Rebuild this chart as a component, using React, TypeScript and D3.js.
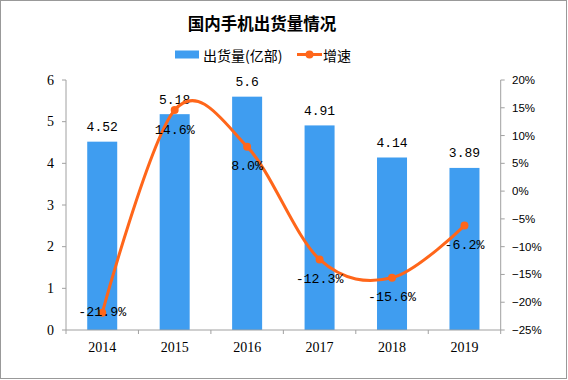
import React from "react";
import * as d3 from "d3";

const years = ["2014", "2015", "2016", "2017", "2018", "2019"];
const shipments = [4.52, 5.18, 5.6, 4.91, 4.14, 3.89];
const shipmentLabels = ["4.52", "5.18", "5.6", "4.91", "4.14", "3.89"];
const growth = [-21.9, 14.6, 8.0, -12.3, -15.6, -6.2];
const growthLabels = ["-21.9%", "14.6%", "8.0%", "-12.3%", "-15.6%", "-6.2%"];
const leftTicks = [0, 1, 2, 3, 4, 5, 6];
const rightTicks = [20, 15, 10, 5, 0, -5, -10, -15, -20, -25];

const title = "国内手机出货量情况";
const legendBar = "出货量(亿部)";
const legendLine = "增速";

const W = 568;
const H = 380;
const BAR = "#3F9DF0";
const LINE = "#FF661A";
const AXIS = "#A0A0A0";
const MONO = "'Liberation Mono', 'DejaVu Sans Mono', monospace";
const SERIF = "'Liberation Serif', serif";
const CJK = "'Noto Sans CJK SC', sans-serif";

export default function App() {
  const left = 66;
  const right = 500.7;
  const top = 80;
  const bottom = 330;

  const x = d3.scaleBand<string>().domain(years).range([left, right]).paddingInner(0).paddingOuter(0);
  const yL = d3.scaleLinear().domain([0, 6]).range([bottom, top]);
  const yR = d3.scaleLinear().domain([-25, 20]).range([bottom, top]);
  const barW = 30;
  const cx = (i: number) => (x(years[i]) as number) + x.bandwidth() / 2;

  const pts: [number, number][] = growth.map((g, i) => [cx(i), yR(g)]);
  const linePath = d3.line().curve(d3.curveCardinal.tension(0))(pts) as string;

  const boundaries = years.map((y) => x(y) as number).concat([right]);

  return (
    <svg
      width={W}
      height={H}
      style={{ position: "absolute", left: 0, top: 0, background: "#fff" }}
    >
      <rect x={0.5} y={0.5} width={566} height={378} fill="#fff" stroke="#999" strokeWidth={1} />

      <text x={262} y={23} textAnchor="middle" dominantBaseline="central" fontFamily={CJK} fontWeight="bold" fontSize={16.5} fill="#000">
        {title}
      </text>

      {/* legend */}
      <rect x={175} y={50.5} width={24} height={8} fill={BAR} />
      <text x={203} y={54.5} dominantBaseline="central" fontFamily={CJK} fontSize={14} fill="#000">
        {legendBar}
      </text>
      <line x1={297} x2={322} y1={54.5} y2={54.5} stroke={LINE} strokeWidth={3} />
      <circle cx={309.5} cy={54.5} r={4} fill={LINE} />
      <text x={323} y={54.5} dominantBaseline="central" fontFamily={CJK} fontSize={14} fill="#000">
        {legendLine}
      </text>

      {/* bars */}
      {shipments.map((v, i) => (
        <rect key={"b" + i} x={cx(i) - barW / 2} y={yL(v)} width={barW} height={bottom - yL(v)} fill={BAR} />
      ))}

      {/* left axis */}
      <line x1={left} x2={left} y1={top} y2={bottom} stroke={AXIS} />
      {leftTicks.map((t) => (
        <g key={"l" + t}>
          <line x1={left - 4} x2={left} y1={yL(t)} y2={yL(t)} stroke={AXIS} />
          <text x={54} y={yL(t)} textAnchor="end" dominantBaseline="central" fontFamily={SERIF} fontSize={14} fill="#000">
            {t}
          </text>
        </g>
      ))}

      {/* right axis */}
      <line x1={right} x2={right} y1={top} y2={bottom} stroke={AXIS} />
      {rightTicks.map((t) => (
        <g key={"r" + t}>
          <line x1={right} x2={right + 4} y1={yR(t)} y2={yR(t)} stroke={AXIS} />
          <text x={512} y={yR(t)} dominantBaseline="central" fontFamily="'Liberation Sans', sans-serif" fontSize={11.5} fill="#000">
            {t < 0 ? "−" + Math.abs(t) + "%" : t + "%"}
          </text>
        </g>
      ))}

      {/* x axis */}
      <line x1={left} x2={right} y1={bottom} y2={bottom} stroke={AXIS} />
      {boundaries.map((b, i) => (
        <line key={"t" + i} x1={b} x2={b} y1={bottom} y2={bottom + 4} stroke={AXIS} />
      ))}
      {years.map((yr, i) => (
        <text key={"y" + i} x={cx(i)} y={347} textAnchor="middle" dominantBaseline="central" fontFamily={SERIF} fontSize={14} fill="#000">
          {yr}
        </text>
      ))}

      {/* bar labels */}
      {shipments.map((v, i) => (
        <text key={"bl" + i} x={cx(i)} y={yL(v) - 14} textAnchor="middle" dominantBaseline="central" fontFamily={MONO} fontSize={13} fill="#000">
          {shipmentLabels[i]}
        </text>
      ))}

      {/* line */}
      <path d={linePath} fill="none" stroke={LINE} strokeWidth={3} />
      {pts.map((p, i) => (
        <circle key={"c" + i} cx={p[0]} cy={p[1]} r={4} fill={LINE} />
      ))}
      {pts.map((p, i) => (
        <text key={"gl" + i} x={p[0]} y={Math.min(p[1] + 20, bottom - 18)} textAnchor="middle" dominantBaseline="central" fontFamily={MONO} fontSize={13.3} fill="#000">
          {growthLabels[i]}
        </text>
      ))}
    </svg>
  );
}
